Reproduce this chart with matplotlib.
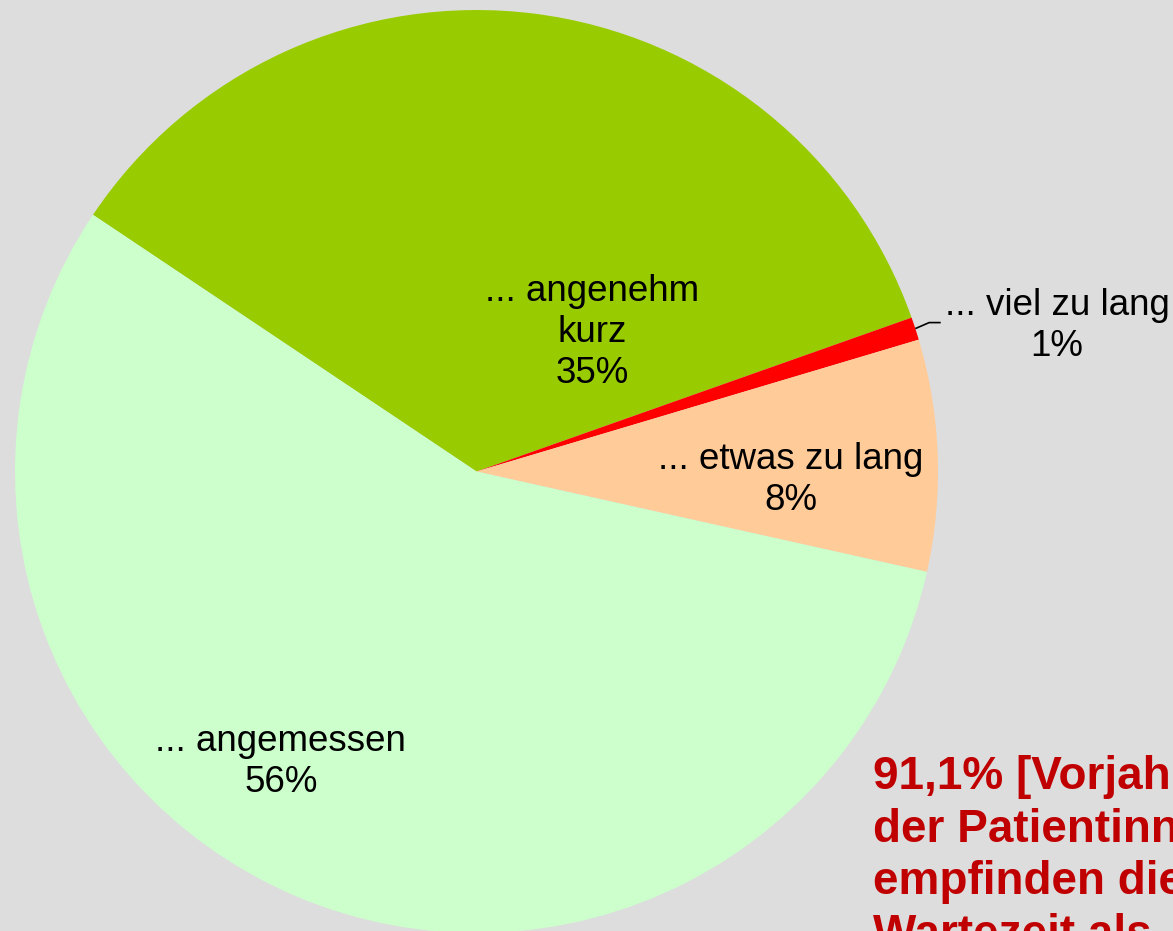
import matplotlib.pyplot as plt
import numpy as np

# Wartezeit-Empfinden (Anteile in %)
categories = ['... angenehm\nkurz', '... viel zu lang', '... etwas zu lang', '... angemessen']
shares = [35.2, 0.8, 8.1, 55.9]
pct_labels = ['35%', '1%', '8%', '56%']
colors = ['#99CC00', '#FF0000', '#FFCC99', '#CCFFCC']

note_lines = ['91,1% [Vorjahr', 'der Patientinnen', 'empfinden die', 'Wartezeit als']

plt.rcParams['font.family'] = ['Liberation Sans', 'DejaVu Sans']

fig = plt.figure(figsize=(11.73, 9.31), dpi=100)
fig.patch.set_facecolor('#DDDDDD')
ax = fig.add_axes([0, 0, 1, 1])
ax.set_facecolor('#DDDDDD')

wedges, _ = ax.pie(shares, colors=colors, startangle=146.2, counterclock=False,
                   radius=1.0, center=(0, 0), frame=False,
                   wedgeprops={'linewidth': 0})

ax.set_xlim(-1.0325, 1.5092)
ax.set_ylim(-0.9957, 1.0217)
ax.set_aspect('auto')
ax.axis('off')

# label positions (data units), best-fit like in the original
label_pos = [(0.250, 0.302), (1.258, 0.315), (0.681, -0.018), (-0.424, -0.629)]
for (x, y), cat, pct in zip(label_pos, categories, pct_labels):
    ax.text(x, y, cat + '\n' + pct, ha='center', va='center', fontsize=26.5,
            linespacing=1.22, color='black')

# leader line for the small slice
w = wedges[1]
mid = np.deg2rad((w.theta1 + w.theta2) / 2)
x0, y0 = np.cos(mid), np.sin(mid)
ax.plot([x0, x0 + 0.03, x0 + 0.055], [y0, y0 + 0.013, y0 + 0.013],
        color='black', lw=1.2, solid_capstyle='butt')

# red note, one line at a time (it runs off the right edge as in the original)
for i, line in enumerate(note_lines):
    ax.text(0.859, -0.687 - i * 0.1148, line, ha='left', va='baseline',
            fontsize=33, fontweight='bold', color='#C00000')

fig.savefig('out.png', dpi=100, facecolor=fig.get_facecolor())
